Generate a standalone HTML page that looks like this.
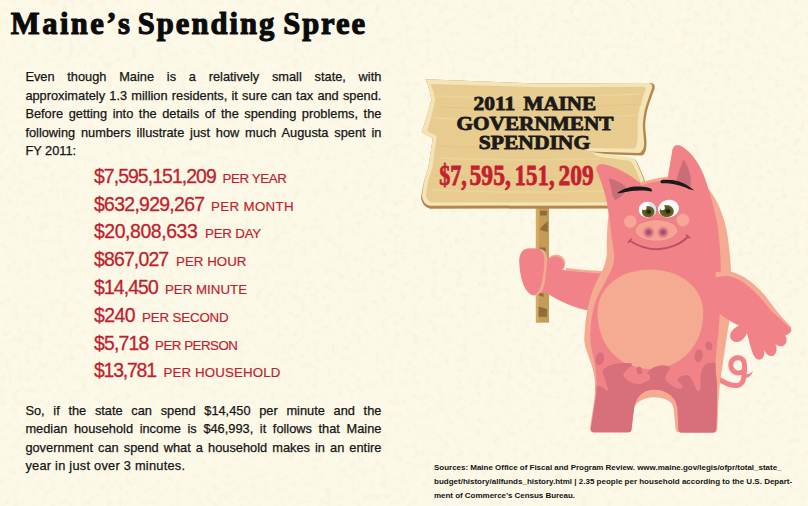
<!DOCTYPE html>
<html>
<head>
<meta charset="utf-8">
<title>Maine's Spending Spree</title>
<style>
html,body{margin:0;padding:0;}
body{width:808px;height:506px;overflow:hidden;background:#fcf9e9;position:relative;font-family:"Liberation Sans",sans-serif;color:#111;}
#title{position:absolute;left:0;top:5.4px;margin:0;font-family:"Liberation Serif",serif;font-weight:bold;font-size:30.6px;line-height:38px;color:#0b0b0b;white-space:nowrap;-webkit-text-stroke:1.1px #0b0b0b;}
#title span{position:absolute;top:0;}
.p{position:absolute;left:25.4px;width:356px;font-size:12.8px;color:#151515;-webkit-text-stroke:0.25px #151515;}
.p span{display:block;white-space:nowrap;text-align:justify;text-align-last:justify;}
.p span.last{text-align-last:left;}
#p1{top:68.4px;line-height:18.5px;}
#p1 span{height:18.5px;}
#p2{top:401.6px;line-height:18.6px;}
#p2 span{height:18.6px;}
#list{position:absolute;left:94px;top:162.7px;margin:0;padding:0;list-style:none;color:#c01e2e;}
#list li{height:27.82px;line-height:27.82px;white-space:nowrap;}
#list li b{display:inline-block;font-weight:normal;font-size:19.4px;-webkit-text-stroke:0.3px #c01e2e;}
#list li i{display:inline-block;font-style:normal;font-size:13.3px;-webkit-text-stroke:0.2px #c01e2e;}
#src{position:absolute;left:434px;top:460.9px;width:370px;font-size:8px;line-height:14px;font-weight:bold;color:#151515;}
#src span{display:block;white-space:nowrap;}
#art{position:absolute;left:0;top:0;width:808px;height:506px;}
</style>
</head>
<body>
<svg id="art" viewBox="0 0 808 506">

<defs>
<clipPath id="cm"><path d="M598.2,174 C595.2,170.5 595.6,165.6 599.6,164.4 C602,163.8 605,164.3 608,165.3 C618,168 628,174 640,182.5 L641,185.3 C650,182.6 660,180.6 667.6,179.6 L668,176.5 L672.5,150 C673,145.5 677,144 681,146 C692,152 702,166 708,188 C711.5,198 715,212 717.5,225 C719.5,241 720.8,256 720.8,272 L719.6,314 C719.3,322 719,327 718.7,330 C717.5,342 716,352 715.4,362.6 C715.4,371 716.5,378 717,384.3 L717,406 L716.3,428 Q716.3,432.5 713,432.5 L681.5,432.5 Q678.5,432.5 678.5,429 L677.4,408 C676.5,397 666,389.4 654,389.4 C642,389.4 635,398 633.8,410 L631.5,429 Q631.5,432.3 628.5,432.3 L594.5,432.3 Q590.8,432.3 591,428 L594.5,405 C596.3,396 597,386 596.3,378 C596,366 593,356 591.3,348 C590.5,343 590.2,337 590.4,332 C590.7,326 591.2,321 592,316.3 C593,311 594.3,305 595.8,300.5 C598,295 601,290 603.7,284.7 C607,278 611,272 613,265.8 C614,262 614.2,257 614,253.2 C613.5,248 612.5,243 611.6,237.4 C611,232 610.5,227 610,221.6 C609.5,218 609,215 608.5,212 C607,198 602.5,185 598.2,174Z"/></clipPath>
<radialGradient id="nos"><stop offset="0" stop-color="#a04c64"/><stop offset=".42" stop-color="#b4586e"/><stop offset=".55" stop-color="#d97787"/><stop offset=".85" stop-color="#e58a92"/><stop offset="1" stop-color="#f0a094" stop-opacity=".6"/></radialGradient>
<radialGradient id="iris"><stop offset="0" stop-color="#3a3910"/><stop offset=".45" stop-color="#555318"/><stop offset="1" stop-color="#6c6b25"/></radialGradient>
<filter id="paper" x="0" y="0" width="100%" height="100%" color-interpolation-filters="sRGB">
<feTurbulence type="fractalNoise" baseFrequency="0.16" numOctaves="4" seed="7"/>
<feColorMatrix type="matrix" values="0 0 0 0 0.95  0 0 0 0 0.88  0 0 0 0 0.68  0.5 0.42 0 0 -0.448"/>
</filter>
</defs>
<rect width="808" height="506" filter="url(#paper)"/>
<!-- pole -->
<g id="pole">
<rect x="535.9" y="205" width="13.1" height="117.6" fill="#c59b56"/>
<rect x="535.9" y="205" width="3" height="117.6" fill="#d3ab66"/>
<path d="M540,210.8 L547,210.8 L547,215.4 L540,215.4Z M547.7,221 L547.7,232 L540.5,230 L540.5,228Z M539.2,247.4 L545.6,247.4 L545.6,251.3 L539.2,251.3Z M538,286 L543.5,286 L543.5,297 L538,295Z M538.5,306.4 L547,309 L547,316.7 L538.5,316.7Z" fill="#8f6c38"/>
</g>
<!-- sign -->
<g id="sign">
<path d="M425.5,79.3 L540,83.6 L650,83 Q655.8,83 654.5,88.8 C651,98 647.5,108 646.6,113.5 C645.3,120 645,126 645.4,129.3 C645.8,136 646.8,141 646.4,145.1 C646.2,149 645.8,151 645,152 Q644,155.6 641,155.6 L592,153.8 L632.5,158.3 Q636,159.3 637.5,163 L644.3,179 Q646,186 646,192 L641,208.5 L430,208.7 Q422.5,207 421,198 Q423,182 428.3,167.8 L432.8,138.1 L421.5,132.2 Q427,118 431.3,99.6 Q430,90 425.5,79.3Z" fill="#b5864b"/>
<path d="M425.5,79.3 L540,83.6 L648,83 Q653.3,83 652,88.5 C648.5,98 645,108 644.2,113.5 C643,120 642.6,126 643,129.3 C643.4,136 644.4,141 644,145 C643.8,148.5 643,150 642,150.8 Q641,153 638.5,153 L588,151.6 L631.5,157.6 Q635,158.5 636.5,162 L643.4,178.6 Q644.5,185 644,190 L639,205.5 L430,205.7 Q423.5,204.5 422,197 Q423,182 428.3,167.8 L432.8,138.1 L421.5,132.2 Q427,118 431.3,99.6 Q430,90 425.5,79.3Z" fill="#f4e4b6"/>
<path d="M430.5,84 L540,87.2 L643,86.8 Q646.5,87 645.2,90.5 C642,99 639,109 638.3,115 C637.5,121 637.4,127 637.6,131 C637.8,137 637.5,142 636.7,145 L634.5,148.8 L584,148 L598,156.4 L629,160.8 Q632,161.5 633.5,165 L640,179.5 Q640.5,185 639.5,190 L635.5,202.3 L432,202.5 Q427.5,201.5 426,196 Q427,182 432.3,167.8 L436.8,136.1 L427,131.2 Q431.5,118 435.3,99.6 Q434,92 430.5,84Z" fill="#e8cc8f"/>
<g stroke="#efd9a2" stroke-width="1.6" fill="none" opacity=".55">
<path d="M436,96 Q520,100 640,94"/><path d="M434,118 Q470,121 640,115"/><path d="M440,158 Q500,161 600,159"/><path d="M432,190 Q520,194 632,190"/>
</g>
<g stroke="#dfc07f" stroke-width="1.2" fill="none" opacity=".6">
<path d="M440,107 Q520,110 642,104"/><path d="M436,146 Q500,149 580,147"/><path d="M432,176 Q520,180 636,176"/>
</g>
<g font-family="Liberation Serif, serif" font-weight="bold" fill="#1b1a18" stroke="#1b1a18" stroke-width=".8">
<text x="473.6" y="110" font-size="17.8" textLength="41.6" lengthAdjust="spacingAndGlyphs">2011</text>
<text x="523.5" y="110" font-size="17.8" textLength="72.6" lengthAdjust="spacingAndGlyphs">MAINE</text>
<text x="456.6" y="129.9" font-size="17.8" textLength="156.8" lengthAdjust="spacingAndGlyphs">GOVERNMENT</text>
<text x="478.8" y="149.4" font-size="17.8" textLength="111.4" lengthAdjust="spacingAndGlyphs">SPENDING</text>
</g>
<g font-family="Liberation Serif, serif" font-weight="bold" font-size="28.6" fill="#c4202f" stroke="#c4202f" stroke-width=".8">
<text x="439.3" y="184.5" textLength="27.6" lengthAdjust="spacingAndGlyphs">$7,</text>
<text x="469.6" y="184.5" textLength="41.2" lengthAdjust="spacingAndGlyphs">595,</text>
<text x="514.6" y="184.5" textLength="40" lengthAdjust="spacingAndGlyphs">151,</text>
<text x="558.6" y="184.5" textLength="35.2" lengthAdjust="spacingAndGlyphs">209</text>
</g>
</g>
<!-- pig -->
<g id="pig">
<!-- tail -->
<path d="M716,377 C723,382.5 730,385.8 737,385.4 C741.5,385 743.6,381 744,375.6 C744.8,369 745.2,364 743.6,361 C741.5,357 736,356.6 733,359.6 C730,362.6 730.2,368 733,370.8 C736,373.8 740.5,373.4 743.8,371" fill="none" stroke="#f18287" stroke-width="5" stroke-linecap="round"/>
<path d="M716,375 L722,379.5 L716,382Z" fill="#f18287"/>
<path d="M742,375.5 C743.5,378.5 747,378.5 749.5,376.5 C751.2,375 752.3,373 752.9,371.2 C751,373 748.5,374.3 746,374.2Z" fill="#f18287"/>
<!-- left arm -->
<path d="M566,268 C578,269.5 592,270.5 608,271.8 L608,280 L566,276Z" fill="#f5aa92"/>
<path d="M541,293.8 L546,292.5 C560,302 575,308 592,311.5 L612,282 L608,274 C592,273 578,272 566,270.5 L556,268 L541,258Z" fill="#f18287"/>
<!-- body -->
<path d="M598.2,174 C595.2,170.5 595.6,165.6 599.6,164.4 C602,163.8 605,164.3 608,165.3 C618,168 628,174 640,182.5 C650,179.5 660,177.5 668,176.5 L672.5,150 C673,145.5 677,144 681,146 C692,152 702,166 708,188 C716,198 723,212 727,232 C729,245 730.5,258 731,272 L730,314 C729.5,322 728.5,327 727.8,330 C726,342 724.5,352 723,362.6 C721.8,371 720.5,378 719.8,384.3 C719,392 718.6,399 718.3,406 L717.3,428 Q717.3,432.5 713.5,432.5 L680,432.5 Q676,432.5 675.6,429 L673.5,408 C672.5,401 664,397.3 654,397.3 C643,397.3 634.5,403 633.5,410 L631,429 Q631,432.3 628,432.3 L593.5,432.3 Q589.7,432.3 590,428 L593.5,405 C595,396 595.5,386 594.5,378 C593,366 588,356 585.7,348 C584,342 584,337 584.7,332 C585,326 585.5,321 586.3,316.3 C587,312 587.5,309 588.3,306 C589.5,300 591,295 592.8,290 C595.5,283 600,275 603,269 C605,264 606.8,258 606.8,253.2 L606.8,237.4 C607,232 607.5,227 607.8,221.6 C608.3,218 608.6,215 608.5,212 C607,198 602.5,185 598.2,174Z" fill="#f5aa92"/>
<path d="M598.2,174 C595.2,170.5 595.6,165.6 599.6,164.4 C602,163.8 605,164.3 608,165.3 C618,168 628,174 640,182.5 L641,185.3 C650,182.6 660,180.6 667.6,179.6 L668,176.5 L672.5,150 C673,145.5 677,144 681,146 C692,152 702,166 708,188 C711.5,198 715,212 717.5,225 C719.5,241 720.8,256 720.8,272 L719.6,314 C719.3,322 719,327 718.7,330 C717.5,342 716,352 715.4,362.6 C715.4,371 716.5,378 717,384.3 L717,406 L716.3,428 Q716.3,432.5 713,432.5 L681.5,432.5 Q678.5,432.5 678.5,429 L677.4,408 C676.5,397 666,389.4 654,389.4 C642,389.4 635,398 633.8,410 L631.5,429 Q631.5,432.3 628.5,432.3 L594.5,432.3 Q590.8,432.3 591,428 L594.5,405 C596.3,396 597,386 596.3,378 C596,366 593,356 591.3,348 C590.5,343 590.2,337 590.4,332 C590.7,326 591.2,321 592,316.3 C593,311 594.3,305 595.8,300.5 C598,295 601,290 603.7,284.7 C607,278 611,272 613,265.8 C614,262 614.2,257 614,253.2 C613.5,248 612.5,243 611.6,237.4 C611,232 610.5,227 610,221.6 C609.5,218 609,215 608.5,212 C607,198 602.5,185 598.2,174Z" fill="#f18287"/>
<g clip-path="url(#cm)">
<path d="M588.0,388.4 C590.0,388.1 596.7,386.1 599.8,386.4 C602.9,386.7 604.9,390.4 606.7,390.4 C608.5,390.4 610.1,388.0 610.6,386.4 C611.1,384.8 610.9,382.8 609.6,380.5 C608.3,378.2 603.4,374.7 602.7,372.6 C602.1,370.5 603.6,369.1 605.7,367.7 C607.9,366.3 611.7,364.9 615.6,364.1 C619.5,363.3 626.7,362.8 629.4,363.1 C632.1,363.4 632.5,364.4 632.0,365.7 C631.5,366.9 627.8,369.0 626.4,370.6 C625.0,372.2 623.0,373.8 623.5,375.6 C624.0,377.4 626.8,380.1 629.4,381.5 C632.0,382.9 636.2,384.1 639.3,383.9 C642.4,383.7 646.4,381.7 648.2,380.5 C650.0,379.3 650.4,377.8 650.2,376.6 C650.0,375.5 646.7,375.1 647.2,373.6 C647.7,372.1 650.5,369.1 653.1,367.7 C655.7,366.3 660.3,365.3 663.0,365.3 C665.7,365.3 668.6,366.5 669.3,367.7 C670.0,368.9 667.6,370.6 667.0,372.6 C666.4,374.6 664.4,377.2 665.4,379.5 C666.4,381.8 670.5,384.9 672.9,386.4 C675.3,387.9 678.1,388.4 679.8,388.4 C681.4,388.4 683.1,387.7 682.8,386.4 C682.5,385.1 678.1,382.1 677.8,380.5 C677.5,378.9 679.1,377.5 680.8,376.6 C682.4,375.7 685.9,374.7 687.7,375.2 C689.5,375.7 690.2,377.1 691.7,379.5 C693.2,381.9 695.5,387.5 696.6,389.4 C697.8,391.3 697.9,391.3 698.6,391.0 C699.3,390.7 700.3,390.0 700.6,387.4 C700.9,384.8 700.1,379.1 700.6,375.6 C701.1,372.2 702.0,368.8 703.5,366.7 C705.0,364.6 706.3,363.8 709.4,363.1 C712.5,362.4 719.9,362.8 722.0,362.7 L722,436 L586,436Z" fill="#d7707b"/>
</g>
<path d="M650,269.4 C681,269.4 703.3,288 703.3,313 C703.3,345 681,369 650,369 C619,369 597.5,345 597.5,313 C597.5,288 619,269.4 650,269.4Z" fill="#f5aa92"/>
<g clip-path="url(#cm)">
<path d="M602.7,372.6 C603.2,371.8 603.6,369.1 605.7,367.7 C607.9,366.3 611.7,364.9 615.6,364.1 C619.5,363.3 626.7,362.8 629.4,363.1 C632.1,363.4 632.5,364.4 632.0,365.7 C631.5,366.9 627.8,369.0 626.4,370.6 C625.0,372.2 623.0,373.8 623.5,375.6 C624.0,377.4 626.8,380.1 629.4,381.5 C632.0,382.9 636.2,384.1 639.3,383.9 C642.4,383.7 646.4,381.7 648.2,380.5 C650.0,379.3 650.4,377.8 650.2,376.6 C650.0,375.5 646.7,375.1 647.2,373.6 C647.7,372.1 650.5,369.1 653.1,367.7 C655.7,366.3 660.3,365.3 663.0,365.3 C665.7,365.3 668.6,366.5 669.3,367.7 C670.0,368.9 667.6,370.6 667.0,372.6 C666.4,374.6 664.4,377.2 665.4,379.5 C666.4,381.8 671.6,385.2 672.9,386.4 L660,395 L610,395Z" fill="#d7707b"/>
<path d="M623.5,375.6 C624.0,377.4 626.8,380.1 629.4,381.5 C632.0,382.9 636.2,384.1 639.3,383.9 C642.4,383.7 646.4,381.7 648.2,380.5 C650.0,379.3 650.4,377.8 650.2,376.6 C650.0,375.5 648.9,374.9 647.2,373.6 C645.5,372.3 642.5,370.3 640.0,369.0 C637.5,367.7 634.3,365.4 632.0,365.7 C629.7,366.0 627.8,369.0 626.4,370.6 C625.0,372.2 623.0,373.8 623.5,375.6Z" fill="#f18287"/>
</g>
<ellipse cx="599.8" cy="358.8" rx="4.3" ry="6.3" fill="#d7707b" transform="rotate(10 599.8 358.8)"/>
<ellipse cx="698.6" cy="355.8" rx="4" ry="6.5" fill="#d7707b" transform="rotate(8 698.6 355.8)"/>
<ellipse cx="708.9" cy="346" rx="3.4" ry="4.3" fill="#d7707b" transform="rotate(-20 708.9 346)"/>
<ellipse cx="639.3" cy="370.6" rx="2.8" ry="4" fill="#d7707b" transform="rotate(-10 639.3 370.6)"/>
<!-- right arm rim + main -->
<path d="M715.5,272.3 C717.7,272.1 723.9,270.6 728.5,271.3 C733.1,272.0 738.9,274.3 743.4,276.7 C747.9,279.1 751.8,282.6 755.2,285.6 C758.7,288.6 761.1,291.1 764.1,294.5 C767.1,297.9 770.5,303.1 773.0,306.3 C775.5,309.5 775.9,310.1 779.0,313.7 C782.1,317.3 789.6,325.4 791.7,327.7 L789,332 L776,318 L740,286 L716,281Z" fill="#f5aa92"/>
<path d="M715.5,277.5 C717.6,277.2 723.8,275.4 728.0,276.0 C732.2,276.6 736.9,278.7 741.0,281.0 C745.1,283.3 749.1,287.0 752.5,290.0 C755.9,293.0 758.5,295.7 761.5,299.0 C764.5,302.3 767.8,307.0 770.5,310.0 C773.2,313.0 774.7,313.9 778.0,317.0 C781.3,320.1 788.4,326.6 790.5,328.5 C793,331 789.5,334.5 785,335.5 C788,339 786.5,344.5 783,346 C780.5,347 778,346 775.4,344.3 C778,349 776,355 772.4,356 C769,356.7 766,354 764.1,350.2 C765,356 762.5,360 758.8,359.8 C754.5,359.5 752.5,353 750.8,347.8 L746.9,333 C745.5,337 742,341.5 737,342 C732,342.5 729,338 730.5,333.5 C732,330 735.5,327.5 738.9,325.6 C732,322 725,318 719.6,313.7 L712,310 L712,280Z" fill="#f18287"/>
<!-- ears inner -->
<path d="M608.9,178.3 C615,180 621,183 625.2,185.9 C626,189 625,192 624,193.5 C621,197 618,199 615.4,200 C613.5,198 612.5,196 612.2,193.5Z" fill="#c96d79"/>
<path d="M683.6,159 C686.5,164 689.5,170 690.6,177 L691,187 C686,186 681,184 676,181.5 C678.5,173 680.5,166 683.6,159Z" fill="#c96d79"/>
<!-- left hand -->
<circle cx="556.2" cy="263.6" r="9.2" fill="#f5aa92"/>
<circle cx="555" cy="265" r="8.8" fill="#f18287"/>
<path d="M519.4,262 C519,253 523,248.4 530,248.6 C535,248.8 539.5,248.7 541.8,249.2 C545,251 547,254 547,257.7 C547,266 546,276 544.4,284.6 C543,290 541,293 538.5,294.6 C536,296 533,295.5 531,294.5 C523,290 520,275 519.4,262Z" fill="#f5aa92"/>
<path d="M519.4,262 C519,253 523,248.4 530,248.6 C534,248.6 537,248.5 539.2,248.7 C542.5,251 544.4,255 544.4,259.5 C544.4,268 543,277 541.3,284.6 C540,289.5 538.5,292 536.7,293.8 C535,295.5 533,295.5 531,294.5 C523,290 520,275 519.4,262Z" fill="#f18287"/>
<!-- face -->
<circle cx="630.3" cy="221.5" r="6.3" fill="#f6a797"/>
<circle cx="683" cy="220" r="6.4" fill="#f6a797"/>
<ellipse cx="656.4" cy="229.7" rx="21.4" ry="10.6" fill="#e06f7e" opacity=".55"/><ellipse cx="656.4" cy="230.4" rx="21" ry="10.3" fill="#f5a494"/>
<circle cx="648.6" cy="232.3" r="6.2" fill="url(#nos)"/>
<circle cx="663" cy="232.3" r="6.2" fill="url(#nos)"/>
<path d="M629.8,240.7 C638,246 648,249.3 657.5,249.3 C669,249.3 681,244 688,236.5" fill="none" stroke="#b9506a" stroke-width="1.9" stroke-linecap="round"/>
<path d="M628.3,242.5 L631.3,239 M686.3,235 L689.8,238" stroke="#b9506a" stroke-width="1.4" stroke-linecap="round"/>
<!-- eyes -->
<ellipse cx="647.4" cy="210.3" rx="9.2" ry="8.5" fill="#e8727c" opacity=".45"/>
<ellipse cx="668.6" cy="209.4" rx="11" ry="9.3" fill="#e8727c" opacity=".45" transform="rotate(-12 668.6 209.4)"/>
<ellipse cx="647.4" cy="209.7" rx="8.7" ry="8" fill="#fefefc"/>
<path d="M648,201.8 C653,202.2 656,205.5 656.1,210 C656,212 655.6,213.5 655,214.8 C652.5,210.5 650,206 648,201.8Z" fill="#d3e6f3"/>
<ellipse cx="668.5" cy="208.7" rx="10.6" ry="8.8" fill="#fefefc" transform="rotate(-12 668.5 208.7)"/>
<ellipse cx="648.2" cy="211.7" rx="6.3" ry="5.6" fill="url(#iris)"/>
<circle cx="649" cy="211.8" r="1.9" fill="#1d1b0b"/>
<circle cx="644.4" cy="207.9" r="2.2" fill="#fefefc"/>
<ellipse cx="666.8" cy="211.2" rx="7.1" ry="6.1" fill="url(#iris)"/>
<circle cx="668.3" cy="211.3" r="2.1" fill="#1d1b0b"/>
<circle cx="662.6" cy="207.9" r="2.4" fill="#fefefc"/>
<!-- brows -->
<path d="M617.1,193.1 C620,190.5 624,188.8 627.3,187.9 C631,186.9 634,186.6 637.2,186.6 C641,186.6 644.5,186.8 647.1,187.3 C649.5,187.8 651.5,188.8 651.9,189.9 C652.2,190.9 651.5,191.6 650.5,191.4 C648,190.8 645,190.4 642.1,190.4 C638.5,190.4 635,190.6 632.2,191 C629,191.4 626,192 623.6,192.5 C621,193 619,193.3 617.1,193.1Z" fill="#1b1a18"/>
<path d="M660.6,182.2 C660.3,180.8 661.5,180 663,179.8 C664.5,179.6 665.7,179.7 666.9,179.8 C670.5,179.9 674,180.3 676.8,180.9 C680,181.6 683,182.8 685.4,184.2 C689,186.2 692,188.5 694.3,190.6 C692.5,190 691,189.6 689.2,189.2 C686,187.6 682.5,186.3 679.3,185.5 C676,184.6 672.5,184 669.4,183.6 C666.5,183.3 664,183.2 661.8,183.3 C661,183.2 660.7,182.8 660.6,182.2Z" fill="#1b1a18"/>
</g>

</svg>
<h1 id="title"><span style="left:10.8px;letter-spacing:2.46px">Maine&rsquo;s</span><span style="left:137.8px;letter-spacing:2.02px">Spending</span><span style="left:283.2px;letter-spacing:1.95px">Spree</span></h1>
<div class="p" id="p1">
<span>Even though Maine is a relatively small state, with</span>
<span>approximately 1.3 million residents, it sure can tax and spend.</span>
<span>Before getting into the details of the spending problems, the</span>
<span>following numbers illustrate just how much Augusta spent in</span>
<span class="last">FY 2011:</span>
</div>
<ul id="list">
<li><b style="width:128.5px;letter-spacing:-0.93px">$7,595,151,209</b><i style="letter-spacing:-.38px">PER YEAR</i></li>
<li><b style="width:117px;letter-spacing:-0.69px">$632,929,267</b><i style="letter-spacing:.36px">PER MONTH</i></li>
<li><b style="width:111px;letter-spacing:-0.41px">$20,808,633</b><i style="letter-spacing:-.2px">PER DAY</i></li>
<li><b style="width:82px;letter-spacing:-0.82px">$867,027</b><i style="letter-spacing:.04px">PER HOUR</i></li>
<li><b style="width:71px;letter-spacing:-0.89px">$14,450</b><i style="letter-spacing:0">PER MINUTE</i></li>
<li><b style="width:48px;letter-spacing:-0.55px">$240</b><i style="letter-spacing:-.14px">PER SECOND</i></li>
<li><b style="width:61px;letter-spacing:-0.82px">$5,718</b><i style="letter-spacing:-.47px">PER PERSON</i></li>
<li><b style="width:69.5px;letter-spacing:-1.18px">$13,781</b><i style="letter-spacing:.13px">PER HOUSEHOLD</i></li>
</ul>
<div class="p" id="p2">
<span>So, if the state can spend $14,450 per minute and the</span>
<span>median household income is $46,993, it follows that Maine</span>
<span>government can spend what a household makes in an entire</span>
<span class="last" style="letter-spacing:.25px">year in just over 3 minutes.</span>
</div>
<div id="src">
<span style="letter-spacing:-.02px">Sources: Maine Office of Fiscal and Program Review. www.maine.gov/legis/ofpr/total_state_</span>
<span>budget/history/allfunds_history.html | 2.35 people per household according to the U.S. Depart-</span>
<span style="letter-spacing:-.03px">ment of Commerce&rsquo;s Census Bureau.</span>
</div>
</body>
</html>
